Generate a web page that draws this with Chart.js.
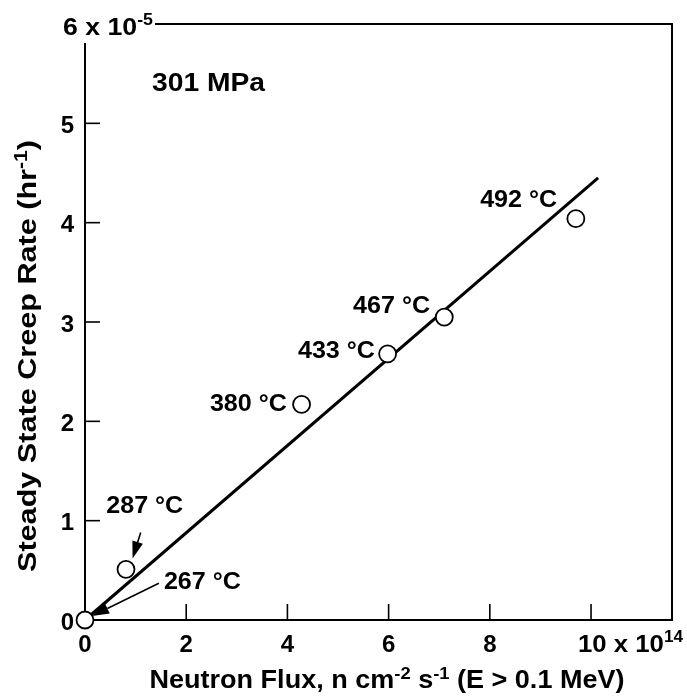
<!DOCTYPE html>
<html>
<head>
<meta charset="utf-8">
<script src="https://cdn.jsdelivr.net/npm/chart.js@4.4.1/dist/chart.umd.min.js"></script>
<style>
html,body{margin:0;padding:0;background:#fff;}
#wrap{width:687px;height:699px;position:relative;}
</style>
</head>
<body>
<div id="wrap"><canvas id="c" width="687" height="699"></canvas></div>
<script>
// Neutron flux (x 10^14 n cm^-2 s^-1)
const flux = [0, 0.81, 4.28, 5.98, 7.10, 9.70];
// Steady state creep rate (x 10^-5 hr^-1)
const creepRate = [0, 0.51, 2.17, 2.68, 3.05, 4.04];
// Temperature labels
const temps = ['267 °C', '287 °C', '380 °C', '433 °C', '467 °C', '492 °C'];
// Fit line endpoints
const fitFlux = [0, 10.14];
const fitRate = [0, 4.45];
// Tick values
const xTicks = [0, 2, 4, 6, 8, 10];
const yTicks = [0, 1, 2, 3, 4, 5, 6];

const FONT = '"Liberation Sans", Arial, Helvetica, sans-serif';

const points = flux.map((x, i) => ({x, y: creepRate[i]}));
const fit = fitFlux.map((x, i) => ({x, y: fitRate[i]}));

// draw text with superscripts; optional target width (horizontal stretch)
function supText(ctx, parts, x, y, align, size, target) {
  size = size || 24;
  const base = 'bold ' + size + 'px ' + FONT, small = 'bold ' + Math.round(size * 0.68) + 'px ' + FONT;
  let w = 0;
  parts.forEach(p => { ctx.font = p.sup ? small : base; w += ctx.measureText(p.t).width; });
  const sx = target ? target / w : 1;
  const tw = w * sx;
  const start = align === 'right' ? x - tw : align === 'center' ? x - tw / 2 : x;
  ctx.save();
  ctx.translate(start, y);
  ctx.scale(sx, 1);
  ctx.textAlign = 'left';
  ctx.textBaseline = 'middle';
  let cx = 0;
  parts.forEach(p => {
    ctx.font = p.sup ? small : base;
    ctx.fillText(p.t, cx, p.sup ? -7 : 0);
    cx += ctx.measureText(p.t).width;
  });
  ctx.restore();
  return tw;
}

function arrow(ctx, x1, y1, x2, y2) {
  ctx.beginPath();
  ctx.moveTo(x1, y1);
  const ang = Math.atan2(y2 - y1, x2 - x1);
  const hl = 17, hw = 5.5;
  const bx = x2 - hl * Math.cos(ang), by = y2 - hl * Math.sin(ang);
  ctx.lineTo(bx, by);
  ctx.lineWidth = 1.6;
  ctx.stroke();
  ctx.beginPath();
  ctx.moveTo(x2, y2);
  ctx.lineTo(bx + hw * Math.sin(ang), by - hw * Math.cos(ang));
  ctx.lineTo(bx - hw * Math.sin(ang), by + hw * Math.cos(ang));
  ctx.closePath();
  ctx.fill();
}

const decor = {
  id: 'decor',
  beforeDatasetsDraw(chart) {
    const ctx = chart.ctx, xs = chart.scales.x, ys = chart.scales.y;
    const L = xs.getPixelForValue(0), R = xs.getPixelForValue(xs.max);
    const B = ys.getPixelForValue(0), T = ys.getPixelForValue(ys.max);
    ctx.save();
    ctx.strokeStyle = '#000'; ctx.fillStyle = '#000';
    ctx.lineWidth = 2;
    ctx.beginPath();
    ctx.moveTo(L, T + 19); ctx.lineTo(L, B); ctx.lineTo(R, B); ctx.lineTo(R, T); ctx.lineTo(L + 70, T);
    ctx.stroke();
    // ticks inward
    ctx.lineWidth = 1.6;
    yTicks.forEach(v => {
      if (v === 0 || v === ys.max) return;
      const py = ys.getPixelForValue(v);
      ctx.beginPath(); ctx.moveTo(L, py); ctx.lineTo(L + 15, py); ctx.stroke();
    });
    xTicks.forEach(v => {
      if (v === 0) return;
      const px = xs.getPixelForValue(v);
      ctx.beginPath(); ctx.moveTo(px, B); ctx.lineTo(px, B - 16); ctx.stroke();
    });
    // y tick labels
    yTicks.forEach(v => {
      const py = ys.getPixelForValue(v);
      if (v === 6) {
        supText(ctx, [{t: '6 x 10'}, {t: '-5', sup: true}], L - 22, py + 4, 'left', 24, 90);
      } else {
        supText(ctx, [{t: String(v)}], L - 11, py + 3, 'right', 24);
      }
    });
    // x tick labels
    xTicks.forEach(v => {
      const px = xs.getPixelForValue(v);
      if (v === 10) {
        supText(ctx, [{t: '10 x 10'}, {t: '14', sup: true}], px - 13, B + 25, 'left', 24, 105);
      } else {
        supText(ctx, [{t: String(v)}], px, B + 25, 'center', 24);
      }
    });
    // axis titles
    supText(ctx, [{t: 'Neutron Flux, n cm'}, {t: '-2', sup: true}, {t: ' s'}, {t: '-1', sup: true}, {t: ' (E > 0.1 MeV)'}], 387, 681, 'center', 25, 475);
    ctx.save();
    ctx.translate(29, 356);
    ctx.rotate(-Math.PI / 2);
    supText(ctx, [{t: 'Steady State Creep Rate (hr'}, {t: '-1', sup: true}, {t: ')'}], 0, 0, 'center', 26, 432);
    ctx.restore();
    // condition label
    supText(ctx, [{t: '301 MPa'}], 152, 84, 'left', 26, 113);
    // temperature labels: [index, x value of right/center edge, y value, align]
    const lab = [
      {i: 2, x: 3.99, y: 2.17, a: 'right'},
      {i: 3, x: 5.73, y: 2.70, a: 'right'},
      {i: 4, x: 6.82, y: 3.16, a: 'right'},
      {i: 5, x: 9.33, y: 4.22, a: 'right'},
      {i: 1, x: 1.18, y: 1.14, a: 'center'},
      {i: 0, x: 2.32, y: 0.38, a: 'center'}
    ];
    lab.forEach(l => {
      supText(ctx, [{t: temps[l.i]}], xs.getPixelForValue(l.x), ys.getPixelForValue(l.y), l.a, 24, 77);
    });
    // arrows
    arrow(ctx, xs.getPixelForValue(1.1), ys.getPixelForValue(0.88), xs.getPixelForValue(0.94), ys.getPixelForValue(0.62));
    arrow(ctx, xs.getPixelForValue(1.46), ys.getPixelForValue(0.37), xs.getPixelForValue(0.14), ys.getPixelForValue(0.04));
    ctx.restore();
  }
};

new Chart(document.getElementById('c'), {
  type: 'scatter',
  data: {
    datasets: [
      {
        label: 'fit', data: fit, showLine: true, borderColor: '#000', borderWidth: 3,
        pointRadius: 0, order: 2
      },
      {
        label: 'data', data: points, pointRadius: 8.5, pointBorderWidth: 1.8,
        pointBorderColor: '#000', pointBackgroundColor: '#fff', order: 1
      }
    ]
  },
  options: {
    responsive: false, animation: false,
    layout: {padding: {left: 85, right: 15, top: 24, bottom: 79}},
    plugins: {legend: {display: false}, tooltip: {enabled: false}},
    scales: {
      x: {type: 'linear', min: 0, max: 11.6, display: false},
      y: {type: 'linear', min: 0, max: 6, display: false}
    },
    clip: false
  },
  plugins: [decor]
});
</script>
</body>
</html>
